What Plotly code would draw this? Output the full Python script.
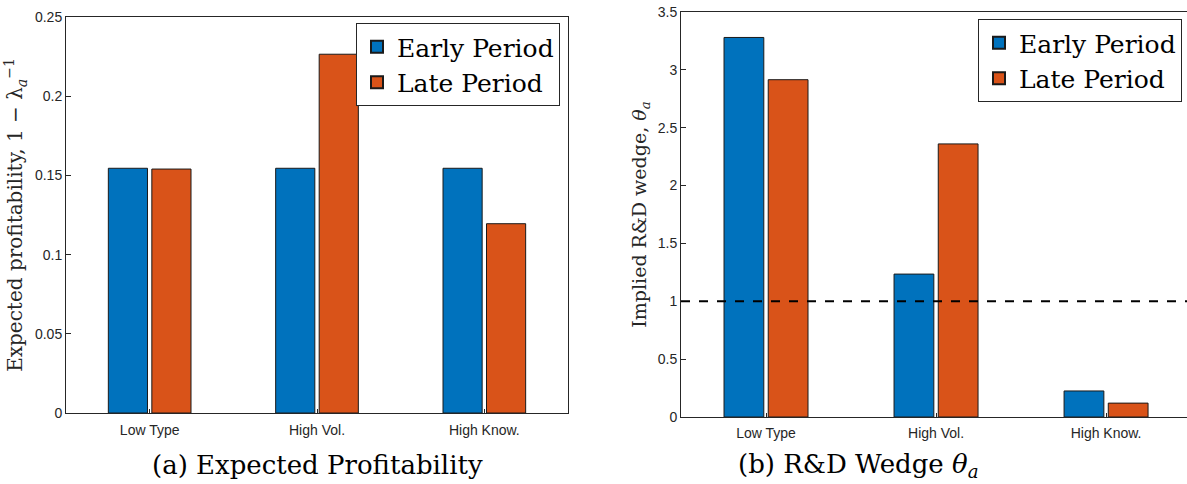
import plotly.graph_objects as go

categories = ["Low Type", "High Vol.", "High Know."]
cat_pos = [1, 2, 3]
profit_early = [0.1545, 0.1545, 0.1545]
profit_late = [0.154, 0.2265, 0.1195]
wedge_early = [3.28, 1.235, 0.225]
wedge_late = [2.915, 2.36, 0.12]
profit_ticks = [0, 0.05, 0.1, 0.15, 0.2, 0.25]
profit_ticklabels = ["0", "0.05", "0.1", "0.15", "0.2", "0.25"]
wedge_ticks = [0, 0.5, 1, 1.5, 2, 2.5, 3, 3.5]
wedge_ticklabels = ["0", "0.5", "1", "1.5", "2", "2.5", "3", "3.5"]
threshold = 1.0

BLUE = "#0072BD"
ORANGE = "#D95319"
AX = "#262626"
SERIF = "DejaVu Serif"
SANS = "Liberation Sans"

fig = go.Figure()
fig.add_trace(go.Bar(x=cat_pos, y=profit_early, name="Early Period", marker=dict(color=BLUE, line=dict(color="#1a1a1a", width=1)),
                     xaxis="x", yaxis="y", legend="legend", offsetgroup="e"))
fig.add_trace(go.Bar(x=cat_pos, y=profit_late, name="Late Period", marker=dict(color=ORANGE, line=dict(color="#1a1a1a", width=1)),
                     xaxis="x", yaxis="y", legend="legend", offsetgroup="l"))
fig.add_trace(go.Bar(x=cat_pos, y=wedge_early, name="Early Period", marker=dict(color=BLUE, line=dict(color="#1a1a1a", width=1)),
                     xaxis="x2", yaxis="y2", legend="legend2", offsetgroup="e"))
fig.add_trace(go.Bar(x=cat_pos, y=wedge_late, name="Late Period", marker=dict(color=ORANGE, line=dict(color="#1a1a1a", width=1)),
                     xaxis="x2", yaxis="y2", legend="legend2", offsetgroup="l"))

fig.add_shape(type="line", xref="x2 domain", yref="y2", x0=0, x1=1, y0=threshold, y1=threshold,
              line=dict(color="black", width=2, dash="dash"))

axis_common = dict(showgrid=False, zeroline=False, showline=True, linecolor=AX, linewidth=1, automargin=False,
                   mirror=True, ticks="inside", tickcolor=AX, tickfont=dict(family=SANS, size=14, color=AX))

fig.update_layout(
    width=1187, height=484,
    margin=dict(l=0, r=0, t=0, b=0, autoexpand=False),
    paper_bgcolor="white", plot_bgcolor="white",
    barmode="group", bargap=0.48, bargroupgap=0.1,
    xaxis=dict(domain=[66/1187, 568/1187], range=[0.5, 3.5], tickvals=cat_pos, ticktext=categories,
               ticklen=4, anchor="y", ticklabelstandoff=4, **axis_common),
    yaxis=dict(domain=[(484-413)/484, (484-17)/484], range=[0, 0.25], tickvals=profit_ticks, ticktext=profit_ticklabels,
               ticklen=5, anchor="x",
               title=dict(text="Expected profitability, 1 − λ<sub><i>a</i></sub><sup>−1</sup>", font=dict(family=SERIF, size=20, color=AX), standoff=6),
               **axis_common),
    xaxis2=dict(domain=[681/1187, 1.0], range=[0.5, 3.476], tickvals=cat_pos, ticktext=categories,
                ticklen=4, anchor="y2", ticklabelstandoff=3, **axis_common),
    yaxis2=dict(domain=[(484-417)/484, (484-12)/484], range=[0, 3.5], tickvals=wedge_ticks, ticktext=wedge_ticklabels,
                ticklen=5, anchor="x2",
                title=dict(text="Implied R&amp;D wedge, <i>θ<sub>a</sub></i>", font=dict(family=SERIF, size=19, color=AX), standoff=6),
                **axis_common),
    legend=dict(x=560/1187, y=(484-23)/484, xanchor="right", yanchor="top", bgcolor="white",
                bordercolor=AX, borderwidth=1, font=dict(family=SERIF, size=25, color="black"),
                tracegroupgap=0, itemsizing="constant"),
    legend2=dict(x=1182/1187, y=(484-19)/484, xanchor="right", yanchor="top", bgcolor="white",
                 bordercolor=AX, borderwidth=1, font=dict(family=SERIF, size=25, color="black"),
                 tracegroupgap=0, itemsizing="constant"),
    annotations=[
        dict(text="(a) Expected Profitability", xref="paper", yref="paper", x=317/1187, y=(484-465)/484,
             xanchor="center", yanchor="middle", showarrow=False, font=dict(family=SERIF, size=26, color="black")),
        dict(text="(b) R&amp;D Wedge <i>θ<sub>a</sub></i>", xref="paper", yref="paper", x=858/1187, y=(484-465)/484,
             xanchor="center", yanchor="middle", showarrow=False, font=dict(family=SERIF, size=26, color="black")),
    ],
)

fig.write_html("out.html")
